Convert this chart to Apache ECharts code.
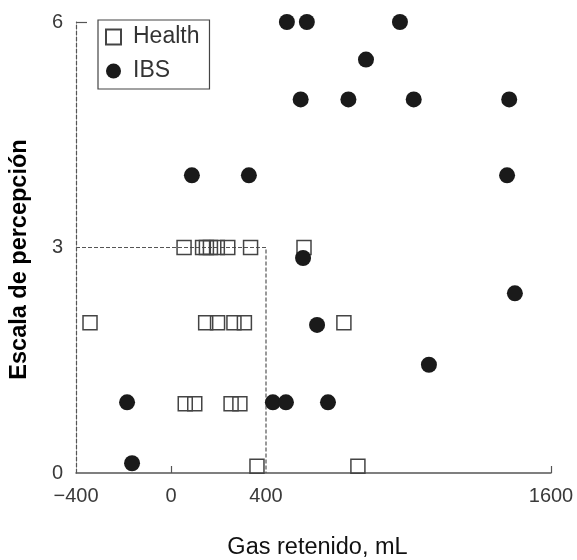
<!DOCTYPE html>
<html>
<head>
<meta charset="utf-8">
<script src="https://cdn.jsdelivr.net/npm/echarts@6/dist/echarts.min.js"></script>
<style>
html,body{margin:0;padding:0;background:#fff;}
#chart{width:577px;height:560px;}
</style>
</head>
<body>
<div id="chart"></div>
<script>
// Data
var healthX = [55, 133, 149, 166, 195, 239, 335, 560, -341, 146, 196, 265, 309, 728, 60, 100, 253, 290, 362, 787];
var healthY = [3, 3, 3, 3, 3, 3, 3, 3, 2, 2, 2, 2, 2, 2, 0.92, 0.92, 0.92, 0.92, 0.09, 0.09];
var ibsX = [488, 572, 964, 821, 546, 747, 1022, 1424, 88, 328, 1415, 556, 1448, 615, 1086, -185, 429, 484, 661, -164];
var ibsY = [6, 6, 6, 5.5, 4.97, 4.97, 4.97, 4.97, 3.96, 3.96, 3.96, 2.86, 2.39, 1.97, 1.44, 0.94, 0.94, 0.94, 0.94, 0.13];
var refLineX = [-400, 400, 400];
var refLineY = [3, 3, 0];
var xTicks = [-400, 0, 400, 1600];
var yTicks = [0, 3, 6];
var seriesNames = ['Health', 'IBS'];
var xTitle = 'Gas retenido, mL';
var yTitle = 'Escala de percepción';

function zip(a, b) { return a.map(function (v, i) { return [v, b[i]]; }); }

var chart = echarts.init(document.getElementById('chart'), null, {renderer: 'canvas'});
var font = '"Liberation Sans", Arial, sans-serif';
chart.setOption({
  animation: false,
  backgroundColor: '#ffffff',
  textStyle: {fontFamily: font},
  grid: {left: 76, right: 26, top: 22, bottom: 87, containLabel: false, outerBoundsMode: 'none'},
  legend: {
    data: seriesNames,
    orient: 'vertical',
    left: 98,
    top: 20,
    padding: [5, 10, 6, 7],
    itemGap: 10,
    itemWidth: 15,
    itemHeight: 15,
    borderColor: '#444',
    borderWidth: 1.2,
    borderRadius: 0,
    textStyle: {fontFamily: font, fontSize: 23, color: '#333', lineHeight: 24, padding: [0, 0, 0, 7]}
  },
  xAxis: {
    type: 'value',
    min: -400,
    max: 1600,
    interval: 400,
    name: xTitle,
    nameLocation: 'middle',
    nameGap: 63,
    nameTextStyle: {fontFamily: font, fontSize: 23.5, color: '#111', padding: [0, 0, 0, 8]},
    splitLine: {show: false},
    axisLine: {show: true, onZero: false, lineStyle: {color: '#555', width: 1.5}},
    axisTick: {show: true, inside: true, length: 7, customValues: [0, 1600], lineStyle: {color: '#555', width: 1.2}},
    axisLabel: {
      customValues: xTicks,
      margin: 13,
      fontSize: 20,
      color: '#3a3a3a',
      fontFamily: font,
      formatter: function (v) { return v < 0 ? '\u2212' + Math.abs(v) : String(v); }
    }
  },
  yAxis: {
    type: 'value',
    min: 0,
    max: 6,
    interval: 3,
    name: yTitle,
    nameLocation: 'middle',
    nameGap: 44,
    nameTextStyle: {fontFamily: font, fontSize: 23.5, fontWeight: 'bold', color: '#000', padding: [0, 24, 0, 0]},
    splitLine: {show: false},
    axisLine: {show: true, onZero: false, lineStyle: {color: '#555', width: 1.2, type: [4, 2]}},
    axisTick: {show: true, inside: true, length: 11, customValues: [6], lineStyle: {color: '#555', width: 1.2}},
    axisLabel: {customValues: yTicks, margin: 13, fontSize: 20, color: '#3a3a3a', fontFamily: font}
  },
  series: [
    {
      name: 'ref',
      type: 'line',
      data: zip(refLineX, refLineY),
      symbol: 'none',
      silent: true,
      lineStyle: {color: '#555', width: 1.2, type: [4, 2]},
      z: 1
    },
    {
      name: seriesNames[0],
      type: 'scatter',
      data: zip(healthX, healthY),
      symbol: 'rect',
      symbolSize: 14,
      itemStyle: {color: 'rgba(255,255,255,0)', borderColor: '#444', borderWidth: 1.5, opacity: 1},
      z: 2
    },
    {
      name: seriesNames[1],
      type: 'scatter',
      data: zip(ibsX, ibsY),
      symbol: 'circle',
      symbolSize: 16,
      itemStyle: {color: '#1a1a1a', opacity: 1},
      z: 3
    }
  ]
});
</script>
</body>
</html>
